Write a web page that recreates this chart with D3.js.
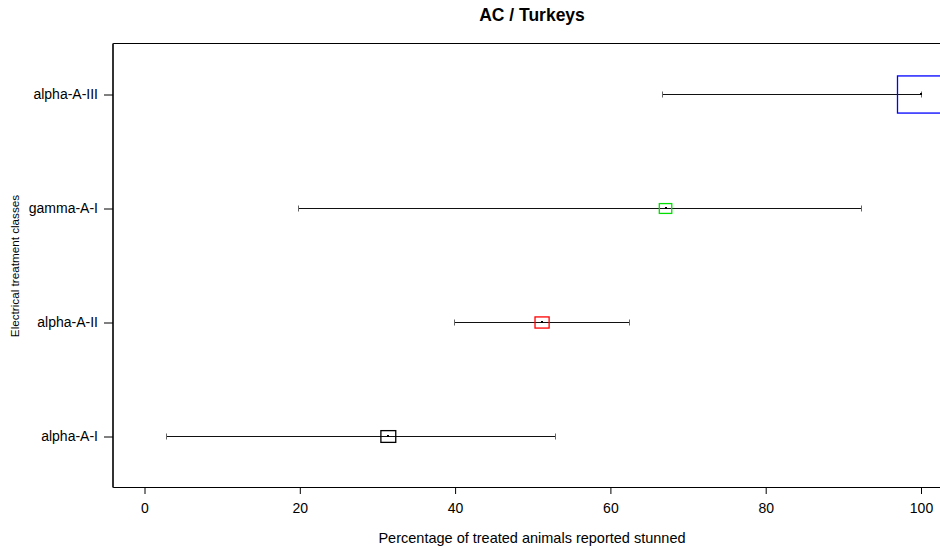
<!DOCTYPE html>
<html>
<head>
<meta charset="utf-8">
<script src="https://cdn.jsdelivr.net/npm/d3@7"></script>
<style>
  html, body { margin: 0; padding: 0; background: #fff; }
  svg { display: block; font-family: "Liberation Sans", Arial, sans-serif; }
</style>
</head>
<body>
<svg id="chart" width="940" height="548"></svg>
<script>
// ---- data ----
const categories = ["alpha-A-I", "alpha-A-II", "gamma-A-I", "alpha-A-III"];
const estimates  = [31.4, 51.2, 67.1, 100];
const lowerCI    = [2.8, 39.9, 19.8, 66.7];
const upperCI    = [52.9, 62.4, 92.3, 100];
const weights    = [10, 9, 7, 100];
const colors     = ["#000000", "#ff0000", "#00dd00", "#0000ff"];
const xTicks     = [0, 20, 40, 60, 80, 100];
const title      = "AC / Turkeys";
const xTitle     = "Percentage of treated animals reported stunned";
const yTitle     = "Electrical treatment classes";

(function () {
const svg = d3.select("#chart");

const x = d3.scaleLinear().domain([0, 100]).range([144.5, 921]);
const y = d3.scaleLinear().domain([1, 4]).range([436.5, 94.5]);
const side = d3.scaleSqrt().domain([0, 100]).range([0, 47]);

const pLeft = 113, pTop = 43.5, pBottom = 487.5, pRight = 950;

// box (right edge beyond view)
svg.append("line").attr("x1", pLeft).attr("x2", pRight).attr("y1", pTop).attr("y2", pTop)
  .attr("stroke", "#000").attr("stroke-width", 1);
svg.append("line").attr("x1", pLeft).attr("x2", pRight).attr("y1", pBottom).attr("y2", pBottom)
  .attr("stroke", "#000").attr("stroke-width", 1);
svg.append("line").attr("x1", pLeft).attr("x2", pLeft).attr("y1", pTop).attr("y2", pBottom)
  .attr("stroke", "#333").attr("stroke-width", 2);

// x axis
const xAxis = d3.axisBottom(x).tickValues(xTicks).tickSize(6).tickPadding(9).tickFormat(d3.format("d"));
const gx = svg.append("g").attr("transform", `translate(0,${pBottom + 0.5})`).call(xAxis);
gx.select(".domain").remove();
gx.selectAll(".tick line").attr("stroke", "#000");
gx.selectAll("text").attr("font-size", 14).attr("fill", "#000");

// y axis
const yAxis = d3.axisLeft(y).tickValues([1, 2, 3, 4]).tickSize(9).tickPadding(6)
  .tickFormat((d, i) => categories[i]);
const gy = svg.append("g").attr("transform", `translate(${pLeft},0)`).call(yAxis);
gy.select(".domain").remove();
gy.selectAll(".tick line").attr("stroke", "#000");
gy.selectAll("text").attr("font-size", 14).attr("fill", "#000");

// marks
const data = categories.map((c, i) => ({
  c, i, est: estimates[i], lo: lowerCI[i], hi: upperCI[i], w: weights[i], col: colors[i]
}));

const g = svg.append("g");
data.forEach(d => {
  const yy = y(d.i + 1);
  g.append("line").attr("x1", x(d.lo)).attr("x2", x(d.hi)).attr("y1", yy).attr("y2", yy)
    .attr("stroke", "#111").attr("stroke-width", 1);
  [d.lo, d.hi].forEach(v => {
    g.append("line").attr("x1", Math.round(x(v)) + 0.5).attr("x2", Math.round(x(v)) + 0.5)
      .attr("y1", yy - 3).attr("y2", yy + 3)
      .attr("stroke", "#666").attr("stroke-width", 1);
  });
  const w = side(d.w), h = w * 0.79;
  g.append("rect").attr("x", x(d.est) - w / 2).attr("y", yy - h / 2)
    .attr("width", w).attr("height", h)
    .attr("fill", "none").attr("stroke", d.col).attr("stroke-width", 1.3);
  g.append("rect").attr("x", Math.round(x(d.est)) - 1).attr("y", yy - 1.5).attr("width", 2).attr("height", 2)
    .attr("fill", "#000");
});

// titles
svg.append("text").attr("x", 532).attr("y", 21).attr("text-anchor", "middle")
  .attr("font-size", 17.5).attr("font-weight", "bold").text(title);
svg.append("text").attr("x", 532).attr("y", 543).attr("text-anchor", "middle")
  .attr("font-size", 14.5).text(xTitle);
svg.append("text").attr("transform", "translate(19,266) rotate(-90)").attr("text-anchor", "middle")
  .attr("font-size", 11.7).text(yTitle);
})();
</script>
</body>
</html>
